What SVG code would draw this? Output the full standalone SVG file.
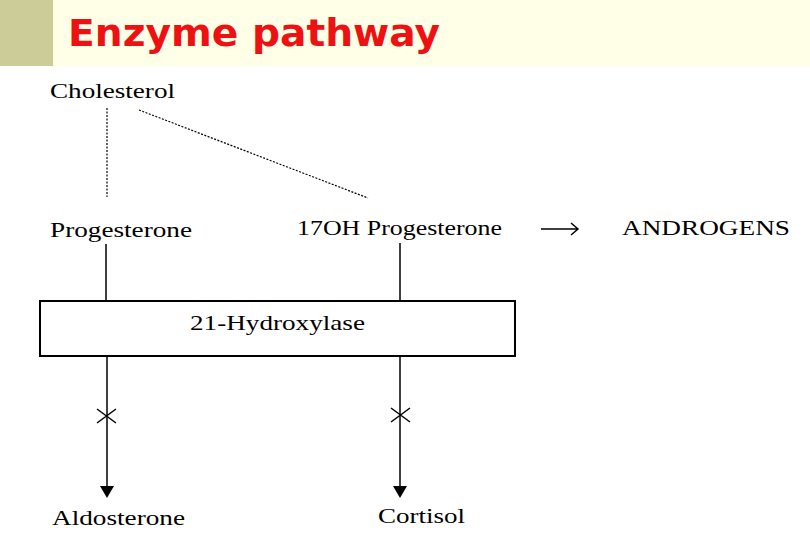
<svg xmlns="http://www.w3.org/2000/svg" width="810" height="540" viewBox="0 0 810 540">
<style>
.t{font-family:"Liberation Serif",serif;font-size:22px;fill:#000}
.l{stroke:#000;stroke-width:1.5;fill:none}
.d{stroke:#000;stroke-width:1.2;stroke-dasharray:2 1.5;fill:none}
</style>
<rect width="810" height="540" fill="#fff"/>
<rect x="0" y="0" width="810" height="66" fill="#FFFFE8"/>
<rect x="0" y="0" width="53" height="66" fill="#CCCC99"/>
<text x="68" y="46" font-family="'DejaVu Sans',sans-serif" font-weight="bold" font-size="37" fill="#EE1111" textLength="372" lengthAdjust="spacingAndGlyphs">Enzyme pathway</text>
<g id="cholesterol"><text class="t" x="50" y="98" textLength="125" lengthAdjust="spacingAndGlyphs">Cholesterol</text></g>
<g id="progesterone"><text class="t" x="50" y="237" textLength="142" lengthAdjust="spacingAndGlyphs">Progesterone</text></g>
<g id="ohprog"><text class="t" x="297" y="235" textLength="205" lengthAdjust="spacingAndGlyphs">17OH Progesterone</text></g>
<g id="androgens"><text class="t" x="622" y="235" textLength="168" lengthAdjust="spacingAndGlyphs">ANDROGENS</text></g>
<g id="enzyme"><rect x="40" y="301" width="475" height="55" fill="#fff" stroke="#000" stroke-width="2"/><text class="t" x="190" y="330" textLength="175" lengthAdjust="spacingAndGlyphs">21-Hydroxylase</text></g>
<g id="aldosterone"><text class="t" x="52" y="525" textLength="133" lengthAdjust="spacingAndGlyphs">Aldosterone</text></g>
<g id="cortisol"><text class="t" x="378" y="523" textLength="87" lengthAdjust="spacingAndGlyphs">Cortisol</text></g>
<g id="connectors">
<line class="d" x1="107" y1="108" x2="107" y2="197"/>
<line class="d" x1="139" y1="110" x2="368" y2="198"/>
<line class="l" x1="106" y1="244" x2="106" y2="301"/>
<line class="l" x1="400" y1="243" x2="400" y2="301"/>
<path class="l" d="M541,229 H578 M571,223 L578,229 L571,235"/>
<line class="l" x1="107" y1="356" x2="107" y2="488"/>
<path d="M100,486 L114,486 L107,498 Z"/>
<line class="l" x1="400" y1="356" x2="400" y2="486"/>
<path d="M393,486 L407,486 L400,498 Z"/>
<path class="l" d="M97,409 L116,423 M116,409 L97,423"/>
<path class="l" d="M391,408 L410,422 M410,408 L391,422"/>
</g>
</svg>
